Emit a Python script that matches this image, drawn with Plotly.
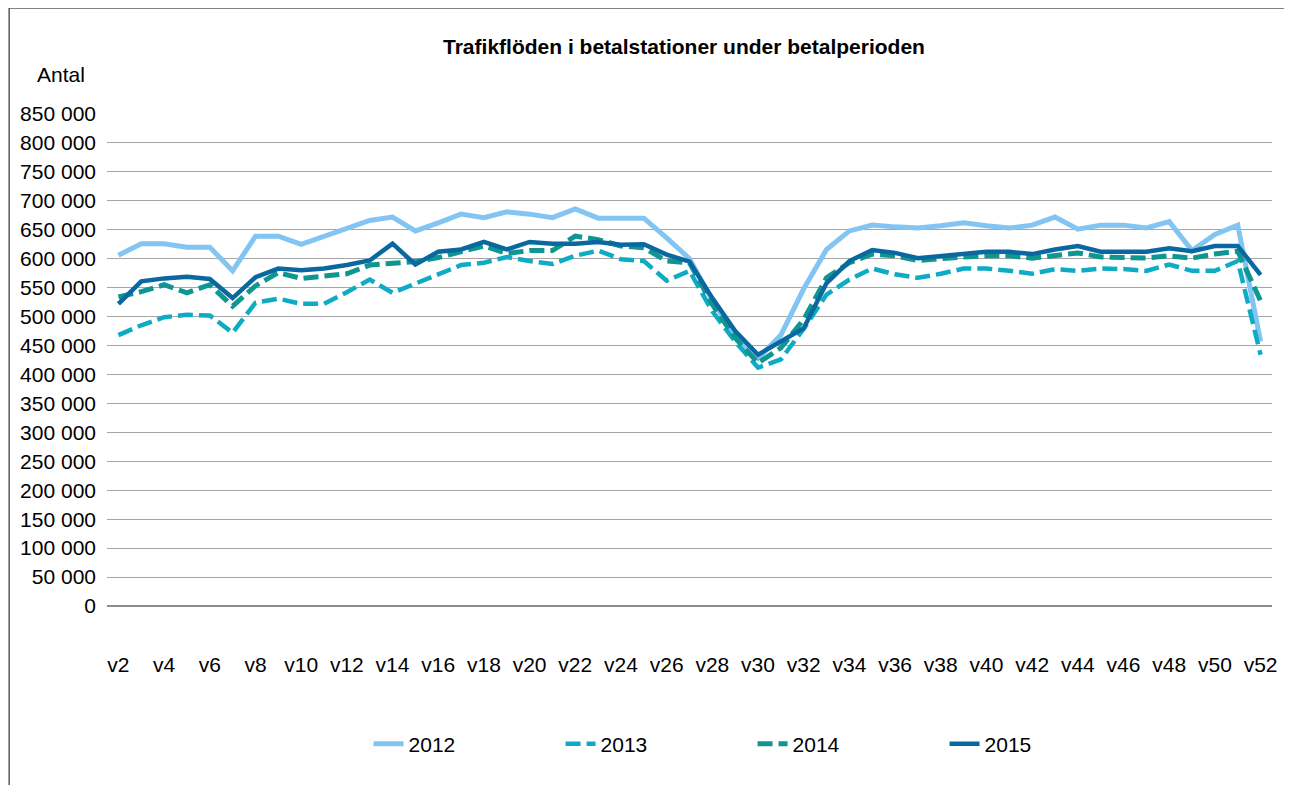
import plotly.graph_objects as go

# Weeks v2..v52
weeks = [f"v{w}" for w in range(2, 53)]

y2012 = [606, 626, 626, 620, 620, 579, 639, 639, 625, 639, 654, 666, 672, 648, 662, 677, 671,
         681, 677, 671, 686, 670, 670, 670, 636, 600, 528, 465, 428, 468, 548, 616, 648, 658,
         655, 653, 657, 662, 657, 653, 658, 672, 651, 658, 658, 653, 664, 614, 642, 658, 457]
y2013 = [468, 485, 499, 503, 502, 472, 524, 531, 522, 522, 542, 564, 541, 558, 573, 589, 593,
         603, 596, 591, 605, 614, 599, 596, 562, 579, 509, 457, 412, 426, 479, 538, 564, 583,
         573, 567, 574, 583, 583, 579, 574, 582, 579, 583, 582, 579, 590, 579, 579, 596, 434]
y2014 = [534, 543, 555, 541, 555, 518, 553, 576, 566, 570, 574, 589, 593, 595, 602, 613, 622,
         609, 614, 614, 639, 633, 622, 619, 596, 593, 521, 463, 420, 446, 495, 567, 593, 608,
         605, 597, 601, 603, 605, 605, 601, 605, 610, 603, 601, 601, 605, 601, 608, 613, 527]
y2015 = [522, 561, 566, 569, 565, 532, 568, 583, 580, 583, 589, 597, 626, 590, 612, 616, 629,
         616, 629, 626, 626, 629, 624, 625, 607, 595, 532, 475, 434, 457, 480, 558, 596, 615,
         610, 601, 605, 608, 612, 612, 608, 616, 622, 612, 612, 612, 618, 613, 622, 622, 572]

ytick_vals = list(range(0, 850001, 50000))
ytick_text = [f"{v:,}".replace(",", " ") for v in ytick_vals]
xtick_vals = weeks[::2]

FONT = "Liberation Sans, Arial, sans-serif"

series = [
    ("2012", y2012, "#82c4f2", "solid", 5),
    ("2013", y2013, "#0eabc4", "15px,6px", 4.5),
    ("2014", y2014, "#0e9690", "15px,6px", 5),
    ("2015", y2015, "#0a68a0", "solid", 4.5),
]

# page body adds an 8px margin, so the figure is 8px smaller on each axis
W, H = 1284, 777
OFF = 8
L, R, T, B = 105, 1272, 114, 606   # plot area in page pixels
PW, PH = R - L, B - T

fig = go.Figure()
for name, vals, color, dash, w in series:
    fig.add_trace(go.Scatter(
        x=weeks, y=[v * 1000 for v in vals], name=name, mode="lines",
        line=dict(color=color, width=w, dash=dash),
    ))

fig.update_layout(
    width=W, height=H,
    margin=dict(l=L - OFF, r=W + OFF - R, t=T - OFF, b=H + OFF - B),
    paper_bgcolor="white", plot_bgcolor="white",
    font=dict(family=FONT, size=21, color="#000000"),
    title=dict(text="<b>Trafikflöden i betalstationer under betalperioden</b>",
               x=(684 - OFF) / W, xanchor="center", y=1 - (47 - OFF) / H, yanchor="middle",
               font=dict(size=21, color="#000000")),
    showlegend=True,
    legend=dict(orientation="h", x=(367 - L) / PW, xanchor="left",
                y=(B - 744) / PH, yanchor="middle",
                entrywidth=147, font=dict(size=21), traceorder="normal"),
    xaxis=dict(type="category", range=[-0.5, 50.5], tickvals=xtick_vals,
               showgrid=False, showline=False, ticks="", ticklabelstandoff=44,
               tickfont=dict(size=21)),
    yaxis=dict(range=[0, 850000], tickvals=ytick_vals, ticktext=ytick_text,
               showgrid=True, gridcolor="#a6a6a6", gridwidth=1,
               zeroline=True, zerolinecolor="#8c8c8c", zerolinewidth=2,
               showline=False, ticks="", ticklabelstandoff=10, tickfont=dict(size=21)),
)

fig.add_annotation(text="Antal", xref="paper", yref="paper",
                   x=(33 - L) / PW, y=(B - 75) / PH,
                   xanchor="left", yanchor="middle", showarrow=False,
                   font=dict(size=21, color="#000000"))

# outer chart frame
fig.add_shape(type="rect", xref="paper", yref="paper",
              x0=(7 - L) / PW, x1=(1287 - L) / PW,
              y0=(B - 800) / PH, y1=(B - 8) / PH,
              line=dict(color="#595959", width=1.5), layer="below")

fig.write_html("out.html")
